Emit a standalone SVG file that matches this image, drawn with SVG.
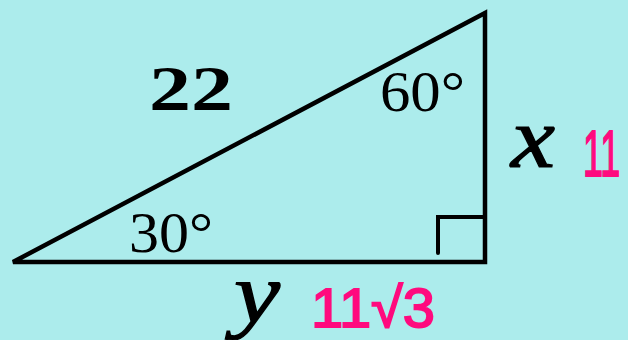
<svg xmlns="http://www.w3.org/2000/svg" width="628" height="340" viewBox="0 0 628 340">
<style>
.edge{fill:none;stroke:#000;stroke-width:4.5;stroke-linejoin:miter;stroke-linecap:butt}
.sq{fill:none;stroke:#000;stroke-width:4;stroke-linecap:round}
.lbl{font-family:"Liberation Serif","DejaVu Serif",serif;fill:#000}
.var{font-family:"Liberation Serif","DejaVu Serif",serif;font-style:italic;fill:#000;stroke:#000;stroke-width:1.2}
.ink{font-family:"Liberation Sans","DejaVu Sans",sans-serif;fill:#FF0A7E;stroke:#FF0A7E;stroke-width:1.8}
</style>
<rect width="628" height="340" fill="#ACECEC"/>
<g id="connectors">
<polygon class="edge" points="13,262 485,13 485,262"/>
<polyline class="sq" points="438,253 438,217 485,217"/>
</g>
<g id="hyp"><text class="lbl" x="149" y="110" font-size="64" font-weight="bold" textLength="84" lengthAdjust="spacingAndGlyphs">22</text></g>
<g id="angle60"><text class="lbl" x="380" y="111" font-size="58" textLength="85" lengthAdjust="spacingAndGlyphs">60°</text></g>
<g id="angle30"><text class="lbl" x="129" y="252" font-size="58" textLength="84" lengthAdjust="spacingAndGlyphs">30°</text></g>
<g id="side-x"><text class="var" x="511" y="167" font-size="86" textLength="44" lengthAdjust="spacingAndGlyphs">x</text></g>
<g id="side-y"><text class="var" x="234" y="322" font-size="84" textLength="46" lengthAdjust="spacingAndGlyphs">y</text></g>
<g id="note-x"><text class="ink" transform="translate(583,176) scale(0.56,1)" font-size="64">11</text></g>
<g id="note-y"><text class="ink" x="311" y="327" font-size="56" textLength="124" lengthAdjust="spacingAndGlyphs">11√3</text></g>
</svg>
